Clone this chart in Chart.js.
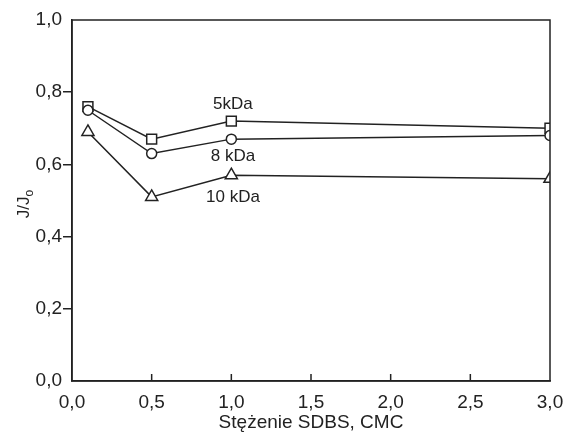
<!DOCTYPE html>
<html lang="pl">
<head>
  <meta charset="UTF-8" />
  <title>J/Jo vs stężenie SDBS</title>
  <script src="https://cdn.jsdelivr.net/npm/chart.js"></script>
  <style>
    body { margin: 0; background: #fff; }
    canvas { display: block; }
  </style>
</head>
<body>
  <canvas id="chart" width="565" height="434"></canvas>

  <script>
    // data
    const stezenie = [0.1, 0.5, 1.0, 3.0];
    const kda5 = [0.76, 0.67, 0.72, 0.70];
    const kda8 = [0.75, 0.63, 0.67, 0.68];
    const kda10 = [0.69, 0.51, 0.57, 0.56];

    const seriesLabels = ['5kDa', '8 kDa', '10 kDa'];
    const labelX = [1.01, 1.01, 1.01];
    const labelY = [0.767, 0.623, 0.51];

    const ink = '#222';
    Chart.defaults.font.family = "'Liberation Sans', Arial, sans-serif";
    Chart.defaults.color = ink;

    const pts = (ys) => stezenie.map((x, i) => ({ x, y: ys[i] }));
    const comma = (v) => v.toFixed(1).replace('.', ',');

    function series(label, ys, style, r, order) {
      return {
        label,
        data: pts(ys),
        order,
        borderColor: ink,
        borderWidth: 1.5,
        pointStyle: style,
        pointRadius: r,
        pointBorderWidth: 1.5,
        pointBorderColor: ink,
        pointBackgroundColor: '#fff',
        tension: 0
      };
    }

    // frame, inside x ticks, y title with subscript, series labels
    const extras = {
      id: 'extras',
      afterDraw(chart) {
        const { ctx, chartArea: a, scales } = chart;
        ctx.save();
        ctx.strokeStyle = ink;
        ctx.lineWidth = 1.5;
        ctx.strokeRect(a.left, a.top, a.right - a.left, a.bottom - a.top);

        ctx.beginPath();
        scales.x.ticks.forEach(t => {
          if (t.value <= 0 || t.value >= 3) return;
          const px = scales.x.getPixelForValue(t.value);
          ctx.moveTo(px, a.bottom);
          ctx.lineTo(px, a.bottom - 7);
        });
        ctx.stroke();

        ctx.fillStyle = ink;
        ctx.textAlign = 'center';
        ctx.textBaseline = 'middle';
        ctx.font = "17px 'Liberation Sans', Arial, sans-serif";
        seriesLabels.forEach((s, i) => {
          ctx.fillText(s, scales.x.getPixelForValue(labelX[i]), scales.y.getPixelForValue(labelY[i]));
        });

        // y title "J/Jo" with subscript o
        ctx.translate(23, 204);
        ctx.rotate(-Math.PI / 2);
        ctx.textAlign = 'left';
        ctx.textBaseline = 'alphabetic';
        const main = 'J/J';
        ctx.font = "17px 'Liberation Sans', Arial, sans-serif";
        const w1 = ctx.measureText(main).width;
        ctx.font = "12px 'Liberation Sans', Arial, sans-serif";
        const w2 = ctx.measureText('o').width;
        const x0 = -(w1 + w2) / 2;
        ctx.font = "17px 'Liberation Sans', Arial, sans-serif";
        ctx.fillText(main, x0, 6);
        ctx.font = "12px 'Liberation Sans', Arial, sans-serif";
        ctx.fillText('o', x0 + w1, 10);
        ctx.restore();
      }
    };

    new Chart(document.getElementById('chart'), {
      type: 'line',
      data: {
        datasets: [
          series('5kDa', kda5, 'rect', 7, 1),
          series('8 kDa', kda8, 'circle', 5, 0),
          series('10 kDa', kda10, 'triangle', 7, 2)
        ]
      },
      options: {
        responsive: false,
        animation: false,
        layout: { padding: { top: 20, right: 15, left: 0, bottom: 0 } },
        plugins: { legend: { display: false }, tooltip: { enabled: false } },
        scales: {
          x: {
            type: 'linear',
            min: 0,
            max: 3,
            afterFit: s => { s.height = 53; s.paddingRight = 0; s.paddingLeft = 0; },
            border: { color: ink, width: 1.5 },
            grid: { drawOnChartArea: false, drawTicks: false },
            ticks: { stepSize: 0.5, padding: 10, maxRotation: 0, font: { size: 19 }, callback: comma },
            title: { display: true, text: 'Stężenie SDBS, CMC', font: { size: 19 }, padding: { top: 0, bottom: 0 } }
          },
          y: {
            min: 0,
            max: 1,
            afterFit: s => { s.width = 72; s.paddingTop = 0; s.paddingBottom = 0; },
            border: { color: ink, width: 1.5 },
            grid: {
              drawOnChartArea: false,
              drawTicks: true,
              tickLength: 9,
              lineWidth: 1.5,
              tickColor: c => (c.tick && (c.tick.value === 0 || c.tick.value === 1)) ? 'rgba(0,0,0,0)' : ink
            },
            ticks: { stepSize: 0.2, padding: 1, font: { size: 19 }, callback: comma }
          }
        }
      },
      plugins: [extras]
    });
  </script>
</body>
</html>
